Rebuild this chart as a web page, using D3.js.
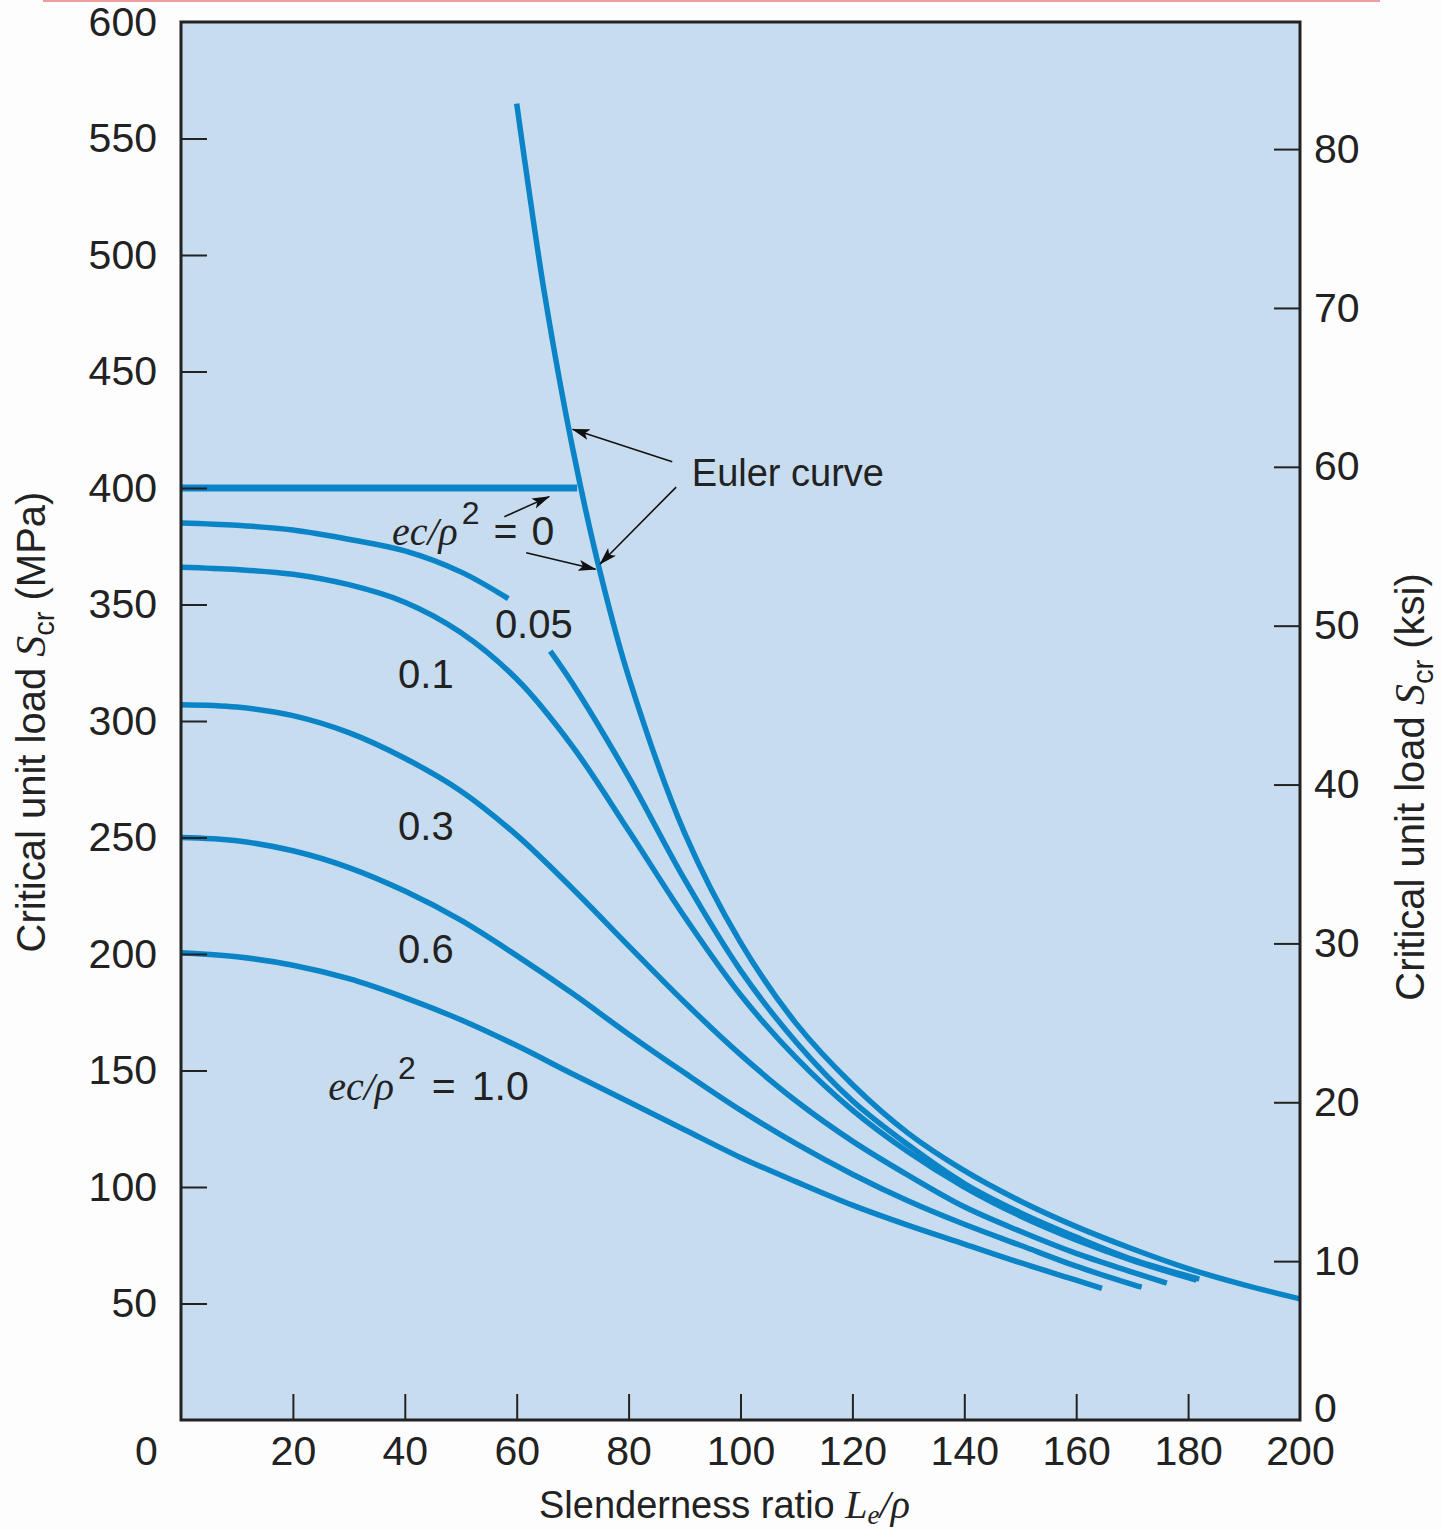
<!DOCTYPE html>
<html>
<head>
  <meta charset="UTF-8">
  <title>Critical unit load vs slenderness ratio</title>
  <style>
    body { margin: 0; background: #fdfdfd; }
    svg { display: block; }
    text { font-family: "Liberation Sans", Arial, sans-serif; fill: #222; }
    .it { font-family: "Liberation Serif", "Times New Roman", serif; font-style: italic; }
  </style>
</head>
<body>
<svg></svg>
<script src="https://d3js.org/d3.v7.min.js"></script>
<script>

// slenderness ratio Le/rho (x) and critical unit load Scr in MPa (y)
const eulerL = [60, 62, 65, 70, 75, 80, 90, 100, 110, 120, 130, 140, 150, 160, 170, 180, 190, 200];
const eulerS = [565, 531, 483, 417, 363, 319, 252, 205, 170, 144, 123, 107, 94, 83, 73.5, 65, 58, 52];

const yieldL = [0, 70.8];
const yieldS = [400, 400];

const ecc005L = [0, 10, 20, 30, 40, 50, 58.5, 62, 66, 70, 80, 90, 100, 110, 120, 130, 140, 150, 160, 170, 182];
const ecc005S = [385, 384, 382, 378, 373, 364, 352.5, null, 330, 316, 276, 232, 193, 162, 137, 118, 101.5, 89, 78.5, 69, 60.5];

const ecc01L = [0, 10, 20, 30, 40, 50, 60, 70, 80, 90, 100, 110, 120, 130, 140, 150, 160, 170, 181.5];
const ecc01S = [366, 365, 363, 358.5, 351, 338, 318, 289, 253, 216, 182.5, 155.3, 133, 115, 100, 87.6, 77.3, 68.5, 60];

const ecc03L = [0, 10, 20, 30, 40, 50, 60, 70, 80, 90, 100, 110, 120, 130, 140, 150, 160, 170, 176.2];
const ecc03S = [307, 306, 302.3, 295, 284, 270, 251, 228, 203.5, 179.3, 156.8, 136.8, 119.7, 105, 91.5, 81, 71.5, 63.5, 58.7];

const ecc06L = [0, 10, 20, 30, 40, 50, 60, 70, 80, 90, 100, 110, 120, 130, 140, 150, 160, 170, 171.7];
const ecc06S = [250, 248.6, 244.3, 237.1, 227, 214.5, 199.3, 183, 165.6, 149, 133, 118.5, 105.5, 94, 84, 75, 66, 58.2, 57];

const ecc10L = [0, 10, 20, 30, 40, 50, 60, 70, 80, 90, 100, 110, 120, 130, 140, 150, 160, 164.6];
const ecc10S = [200.5, 198.8, 195.2, 189.4, 181.3, 171.8, 160.7, 148.5, 136.6, 124.6, 112.7, 102.2, 92.2, 83.5, 75.5, 67.5, 60, 56.5];

const xTicks = [0, 20, 40, 60, 80, 100, 120, 140, 160, 180, 200];
const yTicks = [50, 100, 150, 200, 250, 300, 350, 400, 450, 500, 550, 600];
const ksiTicks = [0, 10, 20, 30, 40, 50, 60, 70, 80];
const KSI_AT_TOP = 88; // right scale as printed, its top edge sits near 88 ksi

// curve labels: [text, Le/rho, Scr]
const numLabels = [["0.05", 56.1, 335.6], ["0.1", 38.8, 314.2], ["0.3", 38.8, 248.9], ["0.6", 38.8, 196.1]];
// arrows: [fromL, fromS, toL, toS]
const arrows = [
  [87.8, 411.3, 70.0, 425.2],
  [88.5, 400.4, 74.9, 367.4],
  [57.8, 387.7, 65.8, 396.3],
  [61.7, 372.2, 74.1, 365.1]
];

let width = 1442,
    height = 1530;
let margin = {left: 181, top: 22, right: 142, bottom: 110};

let svg = d3.select("svg")
    .attr("width", width)
    .attr("height", height);

let x = d3.scaleLinear().domain([0, 200]).range([margin.left, width - margin.right]);
let y = d3.scaleLinear().domain([0, 600]).range([height - margin.bottom, margin.top]);
let yKsi = d3.scaleLinear().domain([0, KSI_AT_TOP]).range([height - margin.bottom, margin.top]);

// stray red rule at the very top of the page
svg.append("line")
    .attr("x1", 43).attr("x2", 1380)
    .attr("y1", 1).attr("y2", 1)
    .attr("stroke", "#ef9d9f").attr("stroke-width", 2);

// plot background
svg.append("rect")
    .attr("x", x(0)).attr("y", y(600))
    .attr("width", x(200) - x(0)).attr("height", y(0) - y(600))
    .attr("fill", "#c8dcf0");

let lineColour = "#0a84c7";
let line = d3.line()
    .defined(d => d[1] != null)
    .x(d => x(d[0]))
    .y(d => y(d[1]))
    .curve(d3.curveCatmullRom.alpha(0.5));

let zipped = (xs, ys) => xs.map((v, i) => [v, ys[i]]);

let series = [
    zipped(ecc005L, ecc005S),
    zipped(ecc01L, ecc01S),
    zipped(ecc03L, ecc03S),
    zipped(ecc06L, ecc06S),
    zipped(ecc10L, ecc10S),
    zipped(eulerL, eulerS)
];

svg.append("g")
    .selectAll("path")
    .data(series)
    .enter()
    .append("path")
    .attr("d", line)
    .attr("fill", "none")
    .attr("stroke", lineColour)
    .attr("stroke-width", 5.5);

svg.append("path")
    .attr("d", line(zipped(yieldL, yieldS)))
    .attr("fill", "none")
    .attr("stroke", lineColour)
    .attr("stroke-width", 7);

// frame
svg.append("rect")
    .attr("x", x(0)).attr("y", y(600))
    .attr("width", x(200) - x(0)).attr("height", y(0) - y(600))
    .attr("fill", "none")
    .attr("stroke", "#222")
    .attr("stroke-width", 3);

// axes, ticks point inside the frame
let fontSize = 41;

let leftAxis = svg.append("g")
    .attr("transform", "translate(" + x(0) + ",0)")
    .call(d3.axisLeft(y).tickValues(yTicks).tickSize(-26).tickPadding(24));

let rightAxis = svg.append("g")
    .attr("transform", "translate(" + x(200) + ",0)")
    .call(d3.axisRight(yKsi).tickValues(ksiTicks).tickSize(-26).tickPadding(14));

let bottomAxis = svg.append("g")
    .attr("transform", "translate(0," + y(0) + ")")
    .call(d3.axisBottom(x).tickValues(xTicks).tickSize(-26).tickPadding(16));

[leftAxis, rightAxis, bottomAxis].forEach(a => {
    a.select(".domain").remove();
    a.selectAll(".tick line").attr("stroke", "#222").attr("stroke-width", 2);
    a.selectAll(".tick text")
        .style("font-family", "'Liberation Sans', Arial, sans-serif")
        .attr("font-size", fontSize)
        .attr("fill", "#222");
});

// zero labels sit off the usual spot
bottomAxis.selectAll(".tick").filter(d => d == 0).select("text").attr("x", -35);
bottomAxis.selectAll(".tick").filter(d => d == 0 || d == 200).select("line").remove();
rightAxis.selectAll(".tick").filter(d => d == 0).select("text").attr("y", -12);
rightAxis.selectAll(".tick").filter(d => d == 0).select("line").remove();
leftAxis.selectAll(".tick").filter(d => d == 600).select("line").remove();

// arrows
svg.append("defs").append("marker")
    .attr("id", "head")
    .attr("viewBox", "0 -6 18 12")
    .attr("refX", 17)
    .attr("refY", 0)
    .attr("markerUnits", "userSpaceOnUse")
    .attr("markerWidth", 18)
    .attr("markerHeight", 12)
    .attr("orient", "auto")
    .append("path")
    .attr("d", "M0,-5.5L18,0L0,5.5L4,0Z")
    .attr("fill", "#111");

svg.append("g")
    .selectAll("line")
    .data(arrows)
    .enter()
    .append("line")
    .attr("x1", d => x(d[0])).attr("y1", d => y(d[1]))
    .attr("x2", d => x(d[2])).attr("y2", d => y(d[3]))
    .attr("stroke", "#111")
    .attr("stroke-width", 1.6)
    .attr("marker-end", "url(#head)");

// labels
svg.append("text")
    .attr("x", x(91.3)).attr("y", y(400.9))
    .attr("font-size", 38)
    .text("Euler curve");

svg.append("g")
    .selectAll("text")
    .data(numLabels)
    .enter()
    .append("text")
    .attr("x", d => x(d[1])).attr("y", d => y(d[2]))
    .attr("font-size", 40)
    .text(d => d[0]);

function eccLabel(L, S, value, gap) {
    let t = svg.append("text")
        .attr("x", x(L)).attr("y", y(S))
        .attr("font-size", 41);
    t.append("tspan").attr("class", "it").attr("font-size", 40).text("ec/ρ");
    t.append("tspan").attr("font-size", 32).attr("dy", -21).attr("dx", 4).text("2");
    t.append("tspan").attr("dy", 21).attr("dx", gap).text("=");
    t.append("tspan").attr("dx", gap).text(value);
}
eccLabel(37.7, 375.5, "0", 14);
eccLabel(26.3, 137.3, "1.0", 16);

// axis titles
let xTitle = svg.append("text")
    .attr("x", 539).attr("y", 1518)
    .attr("font-size", 38);
xTitle.append("tspan").text("Slenderness ratio ");
xTitle.append("tspan").attr("class", "it").attr("font-size", 40).text("L");
xTitle.append("tspan").attr("class", "it").attr("font-size", 27).attr("dy", 6).text("e");
xTitle.append("tspan").attr("class", "it").attr("font-size", 40).attr("dy", -6).text("/ρ");

function yTitle(cx, cy, unit) {
    let t = svg.append("text")
        .attr("transform", "translate(" + cx + "," + cy + ") rotate(-90)")
        .attr("text-anchor", "middle")
        .attr("font-size", 40);
    t.append("tspan").text("Critical unit load ");
    t.append("tspan").attr("class", "it").attr("font-size", 42).text("S");
    t.append("tspan").attr("font-size", 29).attr("dy", 9).text("cr");
    t.append("tspan").attr("dy", -9).text(" (" + unit + ")");
}
yTitle(45, 722, "MPa");
yTitle(1424, 787, "ksi");

</script>
</body>
</html>
